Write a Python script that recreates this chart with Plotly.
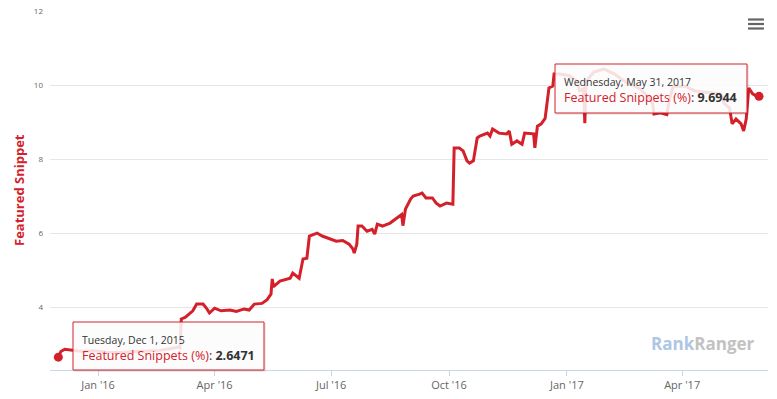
import plotly.graph_objects as go

# ---- data ----
dates = [
    "2015-12-01", "2015-12-03", "2015-12-06", "2015-12-12", "2015-12-20", "2015-12-28",
    "2016-01-08", "2016-01-18", "2016-01-28", "2016-02-08", "2016-02-18", "2016-02-27",
    "2016-03-04", "2016-03-05", "2016-03-06", "2016-03-09", "2016-03-12", "2016-03-15",
    "2016-03-18", "2016-03-23", "2016-03-26", "2016-03-28", "2016-04-01", "2016-04-06",
    "2016-04-13", "2016-04-18", "2016-04-24", "2016-04-28", "2016-05-02", "2016-05-08",
    "2016-05-12", "2016-05-15", "2016-05-16", "2016-05-17", "2016-05-22", "2016-05-30",
    "2016-06-01", "2016-06-06", "2016-06-09", "2016-06-12", "2016-06-14", "2016-06-20",
    "2016-06-24", "2016-06-30", "2016-07-05", "2016-07-10", "2016-07-15", "2016-07-18",
    "2016-07-19", "2016-07-21", "2016-07-22", "2016-07-25", "2016-07-29", "2016-08-02",
    "2016-08-04", "2016-08-06", "2016-08-10", "2016-08-16", "2016-08-23", "2016-08-25",
    "2016-08-26", "2016-08-28", "2016-09-01", "2016-09-03", "2016-09-08", "2016-09-10",
    "2016-09-13", "2016-09-18", "2016-09-21", "2016-09-24", "2016-09-29", "2016-10-04",
    "2016-10-05", "2016-10-09", "2016-10-12", "2016-10-15", "2016-10-17", "2016-10-20",
    "2016-10-23", "2016-10-25", "2016-10-31", "2016-11-02", "2016-11-04", "2016-11-09",
    "2016-11-15", "2016-11-17", "2016-11-19", "2016-11-23", "2016-11-27", "2016-11-29",
    "2016-12-06", "2016-12-07", "2016-12-09", "2016-12-12", "2016-12-15", "2016-12-16",
    "2016-12-18", "2016-12-21", "2016-12-22", "2016-12-26", "2017-01-03", "2017-01-09",
    "2017-01-11", "2017-01-14", "2017-01-15", "2017-01-16", "2017-01-22", "2017-01-30",
    "2017-02-07", "2017-02-15", "2017-02-27", "2017-03-05", "2017-03-09", "2017-03-10",
    "2017-03-15", "2017-03-20", "2017-03-22", "2017-03-25", "2017-04-03", "2017-04-11",
    "2017-04-23", "2017-05-01", "2017-05-04", "2017-05-08", "2017-05-10", "2017-05-13",
    "2017-05-17", "2017-05-19", "2017-05-21", "2017-05-23", "2017-05-26", "2017-05-29",
    "2017-05-31",
]
snippets = [
    2.6471, 2.80, 2.86, 2.84, 2.80, 2.82,
    2.78, 2.77, 2.80, 2.81, 2.83, 2.88,
    2.92, 2.90, 3.68, 3.72, 3.81, 3.90,
    4.08, 4.08, 3.95, 3.84, 3.97, 3.90,
    3.92, 3.88, 3.95, 3.92, 4.08, 4.10,
    4.20, 4.35, 4.76, 4.55, 4.70, 4.78,
    4.92, 4.78, 5.30, 5.32, 5.92, 6.00,
    5.92, 5.84, 5.78, 5.80, 5.70, 5.57,
    5.46, 5.70, 6.19, 6.19, 6.05, 6.10,
    5.97, 6.24, 6.19, 6.27, 6.46, 6.50,
    6.20, 6.65, 6.92, 7.00, 7.05, 7.08,
    6.95, 6.95, 6.81, 6.73, 6.81, 6.78,
    8.30, 8.30, 8.22, 7.95, 7.89, 7.95,
    8.57, 8.62, 8.70, 8.62, 8.81, 8.70,
    8.68, 8.76, 8.40, 8.49, 8.40, 8.70,
    8.68, 8.30, 8.89, 8.95, 9.10, 9.35,
    9.92, 9.97, 10.30, 10.30, 10.25, 10.10,
    9.84, 9.90, 8.97, 10.10, 10.35, 10.43,
    10.30, 10.10, 9.90, 9.70, 9.50, 9.22,
    9.25, 9.20, 9.60, 9.97, 9.97, 9.84,
    9.80, 9.76, 9.50, 9.38, 8.95, 9.08,
    8.95, 8.76, 9.08, 9.92, 9.76, 9.70,
    9.6944,
]
x_tick_dates = ["2016-01-01", "2016-04-01", "2016-07-01", "2016-10-01", "2017-01-01", "2017-04-01"]
x_tick_labels = ["Jan '16", "Apr '16", "Jul '16", "Oct '16", "Jan '17", "Apr '17"]
y_ticks = [4, 6, 8, 10, 12]
series_name = "Featured Snippets (%)"
axis_title = "Featured Snippet"
tooltip_first_date = "Tuesday, Dec 1, 2015"
tooltip_last_date = "Wednesday, May 31, 2017"

RED = "#d4202a"
FONT = "Open Sans"

W, H = 777, 399
L, R, T, B = 50, 9, 11, 29
PW, PH = W - L - R, H - T - B


def px(xp):
    return (xp - L) / PW


def py(yp):
    return (H - B - yp) / PH


fig = go.Figure()
fig.add_trace(go.Scatter(
    x=dates, y=snippets, mode="lines",
    line=dict(color=RED, width=3),
    name=series_name, hoverinfo="skip",
))
fig.add_trace(go.Scatter(
    x=[dates[0], dates[-1]], y=[snippets[0], snippets[-1]], mode="markers",
    marker=dict(color=RED, size=9),
    hoverinfo="skip", showlegend=False,
))

shapes = []
annotations = []


def tooltip(x0, y0, x1, y1, head, value):
    # shadow
    shapes.append(dict(type="rect", xref="paper", yref="paper",
                       x0=px(x0 + 1), x1=px(x1 + 2), y0=py(y1 + 2), y1=py(y0 + 1),
                       line=dict(width=0), fillcolor="rgba(0,0,0,0.08)", layer="above"))
    shapes.append(dict(type="rect", xref="paper", yref="paper",
                       x0=px(x0), x1=px(x1), y0=py(y1), y1=py(y0),
                       line=dict(color=RED, width=1), fillcolor="rgba(255,255,255,0.86)",
                       layer="above"))
    annotations.append(dict(xref="paper", yref="paper", x=px(x0 + 7), y=py(y0 + 18),
                            xanchor="left", yanchor="middle", showarrow=False,
                            text=head, font=dict(family=FONT, size=10.5, color="#333333")))
    annotations.append(dict(xref="paper", yref="paper", x=px(x0 + 7), y=py(y0 + 33),
                            xanchor="left", yanchor="middle", showarrow=False,
                            text=f"<span style='color:{RED}'>{series_name}</span>: <b>{value}</b>",
                            font=dict(family=FONT, size=12.5, color="#333333")))


tooltip(73, 322, 264, 370, tooltip_first_date, f"{snippets[0]:.4f}")
tooltip(555, 64, 747, 113, tooltip_last_date, f"{snippets[-1]:.4f}")

# hamburger menu icon
for yy in (19.5, 24, 28.5):
    shapes.append(dict(type="line", xref="paper", yref="paper",
                       x0=px(748), x1=px(764), y0=py(yy), y1=py(yy),
                       line=dict(color="#666666", width=2.2)))

# y-axis title
annotations.append(dict(xref="paper", yref="paper", x=px(19), y=py(190),
                        xanchor="center", yanchor="middle", showarrow=False, textangle=-90,
                        text=f"<b>{axis_title}</b>",
                        font=dict(family=FONT, size=13, color=RED)))

# watermark
annotations.append(dict(xref="paper", yref="paper", x=px(649), y=py(343),
                        xanchor="left", yanchor="middle", showarrow=False,
                        text="<b><span style='color:#aec6e3'>Rank</span><span style='color:#c2c2c2'>Ranger</span></b>",
                        font=dict(family=FONT, size=17)))

fig.update_layout(
    width=W, height=H,
    margin=dict(l=L, r=R, t=T, b=B, autoexpand=False),
    paper_bgcolor="white", plot_bgcolor="white",
    showlegend=False,
    shapes=shapes, annotations=annotations,
    xaxis=dict(
        type="date",
        range=["2015-11-24 12:00", "2017-06-07"],
        tickmode="array", tickvals=x_tick_dates, ticktext=x_tick_labels,
        showgrid=False, zeroline=False,
        showline=True, linecolor="#ccd6eb", linewidth=1,
        ticks="outside", ticklen=5, tickcolor="#ccd6eb",
        tickfont=dict(family=FONT, size=11, color="#666666"),
    ),
    yaxis=dict(
        range=[2.30, 12.0],
        tickmode="array", tickvals=y_ticks,
        showgrid=True, gridcolor="#e6e6e6", gridwidth=1,
        zeroline=False, showline=False,
        ticks="", ticklabelstandoff=6,
        tickfont=dict(family=FONT, size=8, color="#666666"),
    ),
)

fig.write_html(
    "out.html",
    config={"displayModeBar": False, "staticPlot": True},
    post_script="document.body.style.margin='0';document.body.style.padding='0';document.body.style.overflow='hidden';",
)
